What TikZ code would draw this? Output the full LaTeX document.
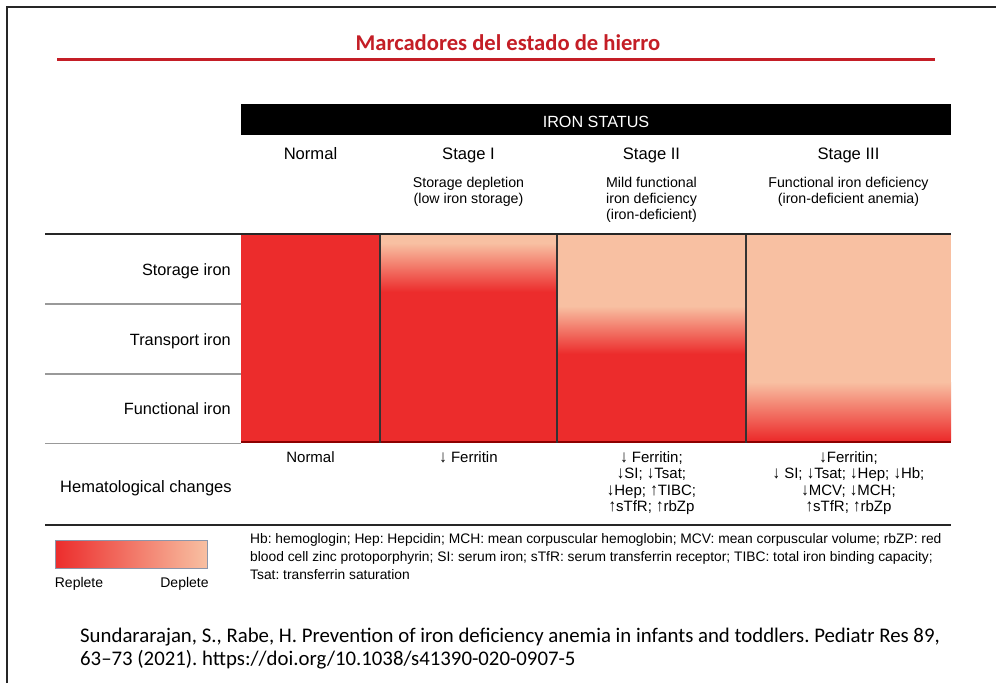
\documentclass[tikz,border=0pt]{standalone}
\usepackage{fontspec}
\usepackage{graphicx}
\setmainfont{Liberation Sans}
\newfontfamily\carl{Carlito}
\definecolor{ired}{RGB}{236,44,44}
\definecolor{ipeach}{RGB}{248,192,162}
\definecolor{titlered}{RGB}{196,30,38}
\definecolor{frame}{RGB}{38,38,38}
\definecolor{legborder}{RGB}{140,150,170}
\newcommand\arrdn{\scalebox{1}[1.15]{↓}}
\newcommand\arrup{\scalebox{1}[1.15]{↑}}
\frenchspacing
\begin{document}
\begin{tikzpicture}[x=1pt,y=-1pt,
  hdr/.style={font=\fontsize{16.6}{19}\selectfont, inner sep=0pt, anchor=base},
  sub/.style={font=\fontsize{14.2}{16}\selectfont, align=center, inner sep=0pt, anchor=north},
  rowlab/.style={font=\fontsize{16.3}{19}\selectfont, inner sep=0pt, anchor=base east},
  hem/.style={font=\fontsize{15}{16.6}\selectfont, align=center, inner sep=0pt, anchor=north},
  rule/.style={draw=frame, line width=1.8pt},
  thinrule/.style={draw=black!40, line width=1.2pt},
  coldiv/.style={draw=black!80, line width=1.1pt}]
\useasboundingbox (0,0) rectangle (996,683);
\fill[white] (0,0) rectangle (996,683);
% outer frame
\draw[frame, line width=2pt] (7,683) -- (7,7) -- (996,7);
% title
\node[font=\carl\bfseries\fontsize{22.6}{26}\selectfont, text=titlered, inner sep=0pt, anchor=base] (title) at (508,50.5) {Marcadores del estado de hierro};
\draw[titlered, line width=3pt] (57,59.5) -- (935,59.5);
% header bar
\node[fill=black, minimum width=710pt, minimum height=31pt, inner sep=0pt, anchor=north west] (bar) at (241,104) {};
\node[font=\fontsize{16.2}{19}\selectfont, text=white, inner sep=0pt, anchor=base] (ironstatus) at (596,127.5) {IRON STATUS};
% column headers
\node[hdr] (hN) at (310.5,159) {Normal};
\node[hdr] (h1) at (468.5,159) {Stage I};
\node[hdr] (h2) at (651.5,159) {Stage II};
\node[hdr] (h3) at (848.5,159) {Stage III};
\node[sub] (s1) at (468.5,177.5) {Storage depletion\\(low iron storage)};
\node[sub] (s2) at (651.5,177.5) {Mild functional\\iron deficiency\\(iron-deficient)};
\node[sub] (s3) at (848.5,177.5) {Functional iron deficiency\\(iron-deficient anemia)};
% coloured columns
\fill[ired] (241,235) rectangle (380,443);
% Stage I
\fill[ipeach] (380,235) rectangle (557,243);
\shade[top color=ipeach, bottom color=ired] (380,243) rectangle (557,292);
\fill[ired] (380,292) rectangle (557,443);
% Stage II
\fill[ipeach] (557,235) rectangle (746,306);
\shade[top color=ipeach, bottom color=ired] (557,306) rectangle (746,354);
\fill[ired] (557,354) rectangle (746,443);
% Stage III
\fill[ipeach] (746,235) rectangle (951,382);
\shade[top color=ipeach, bottom color=ired] (746,382) rectangle (951,440);
\fill[ired] (746,440) rectangle (951,443);
\draw[red!55!black, line width=1.5pt] (241,442) -- (951,442);
% dividers
\draw[coldiv] (380,235) -- (380,443);
\draw[coldiv] (557,235) -- (557,443);
\draw[coldiv] (746,235) -- (746,443);
\draw[rule] (45,234) -- (951,234);
\draw[thinrule] (45,304) -- (241,304);
\draw[thinrule] (45,374) -- (241,374);
\draw[thinrule] (45,443.5) -- (241,443.5);
\draw[rule] (45,525) -- (951,525);
% row labels
\node[rowlab] (r1) at (231,275.5) {Storage iron};
\node[rowlab] (r2) at (231,345) {Transport iron};
\node[rowlab] (r3) at (231,414.5) {Functional iron};
\node[font=\fontsize{16.5}{19}\selectfont, inner sep=0pt, anchor=base west] (hem) at (60,492.5) {Hematological changes};
% hematological changes
\node[hem] (cN) at (310.5,451) {Normal};
\node[hem] (c1) at (468.5,451) {\arrdn{} Ferritin};
\node[hem] (c2) at (651.5,451) {\arrdn{} Ferritin;\\\arrdn SI; \arrdn Tsat;\\\arrdn Hep; \arrup TIBC;\\\arrup sTfR; \arrup rbZp};
\node[hem] (c3) at (848.5,451) {\arrdn Ferritin;\\\arrdn{} SI; \arrdn Tsat; \arrdn Hep; \arrdn Hb;\\\arrdn MCV; \arrdn MCH;\\\arrup sTfR; \arrup rbZp};
% legend
\shade[left color=ired, right color=ipeach] (55,540) rectangle (207,568);
\draw[draw=legborder, line width=0.8pt] (55,540) rectangle (207,568);
\node[font=\fontsize{14}{16}\selectfont, inner sep=0pt, anchor=base] (rep) at (79,587) {Replete};
\node[font=\fontsize{14}{16}\selectfont, inner sep=0pt, anchor=base] (dep) at (184.5,587) {Deplete};
\node[font=\fontsize{13.8}{18}\selectfont, align=left, inner sep=0pt, anchor=north west] (abbr) at (250,533.5) {Hb: hemoglogin; Hep: Hepcidin; MCH: mean corpuscular hemoglobin; MCV: mean corpuscular volume; rbZP: red\\blood cell zinc protoporphyrin; SI: serum iron; sTfR: serum transferrin receptor; TIBC: total iron binding capacity;\\Tsat: transferrin saturation};
% citation
\node[font=\carl\fontsize{20.8}{23}\selectfont, align=left, inner sep=0pt, anchor=base west] (cite) at (80,665) {Sundararajan, S., Rabe, H. Prevention of iron deficiency anemia in infants and toddlers. Pediatr Res 89,\\63–73 (2021). https://doi.org/10.1038/s41390-020-0907-5};
\end{tikzpicture}
\end{document}
